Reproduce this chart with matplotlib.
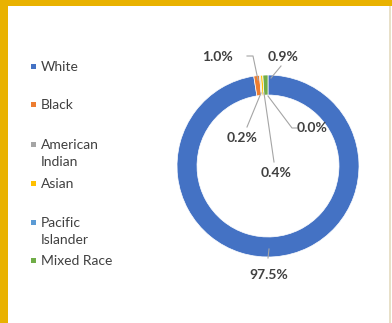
import matplotlib
matplotlib.use('Agg')
import matplotlib.pyplot as plt
from matplotlib.patches import Rectangle

# Share of residents by race (percent)
categories = ['White', 'Black', 'American Indian', 'Asian', 'Pacific Islander', 'Mixed Race']
legend_labels = ['White', 'Black', 'American\nIndian', 'Asian', 'Pacific\nIslander', 'Mixed Race']
shares = [97.5, 1.0, 0.2, 0.4, 0.0, 0.9]
colors = ['#4472C4', '#ED7D31', '#A5A5A5', '#FFC000', '#5B9BD5', '#70AD47']

W, H = 392, 323
fig = plt.figure(figsize=(W / 100, H / 100), dpi=100)
fig.patch.set_facecolor('#E9B200')
# white panel inside the gold frame, thin beige edge on the right
fig.patches.append(Rectangle((8 / W, 0), 1 - 8 / W, (H - 6) / H, transform=fig.transFigure,
                             facecolor='white', edgecolor='none', zorder=-2))
fig.patches.append(Rectangle((389 / W, 0), 1.5 / W, (H - 6) / H, transform=fig.transFigure,
                             facecolor='#E8E0C8', edgecolor='none', zorder=-1))

font = 'Lato'
text_col = '#404040'

# donut centre and radius in pixels
cx, cy, r = 268, 166, 91
ax = fig.add_axes([(cx - r) / W, (H - cy - r) / H, 2 * r / W, 2 * r / H])
ax.set_zorder(2)
ax.patch.set_visible(False)
ax.pie(shares, colors=colors, startangle=90, counterclock=False, radius=1,
       wedgeprops=dict(width=0.22, edgecolor='white', linewidth=0.5))
ax.set_xlim(-1, 1)
ax.set_ylim(-1, 1)
ax.set_aspect('auto')
ax.axis('off')

def px(x, y):
    return (x - cx) / r, (cy - y) / r

# data labels with leader lines (pixel positions)
label_pos = [(269, 275), (217, 57), (242, 138), (276, 173), (312, 128), (283, 57)]
leaders = [
    [(268, 258), (269, 249)],
    [(247, 56), (253, 56), (258, 80)],
    [(247, 127), (261, 93)],
    [(274, 162), (264, 93)],
    [(297, 128), (292, 128), (268, 96)],
    [(271, 78), (281, 66)],
]
for val, pos, line in zip(shares, label_pos, leaders):
    pts = [px(*p) for p in line]
    ax.plot([p[0] for p in pts], [p[1] for p in pts], color='#A5A5A5', lw=0.8,
            clip_on=False, zorder=3)
    tx, ty = px(*pos)
    ax.text(tx, ty, '%.1f%%' % val, ha='center', va='center', fontsize=10,
            fontweight='bold', color=text_col, family=font, clip_on=False, zorder=4)

# legend down the left side
legend_y = [66, 104, 144, 183, 222, 260]
for lab, col, y in zip(legend_labels, colors, legend_y):
    fig.patches.append(Rectangle((31 / W, (H - y - 2.5) / H), 5 / W, 5 / H,
                                 transform=fig.transFigure, facecolor=col,
                                 edgecolor='none', zorder=2))
    fig.text(41 / W, (H - y + 5) / H, lab, ha='left', va='top', fontsize=10,
             color=text_col, family=font, linespacing=1.55)

fig.savefig('out.png', dpi=100, facecolor=fig.get_facecolor())
